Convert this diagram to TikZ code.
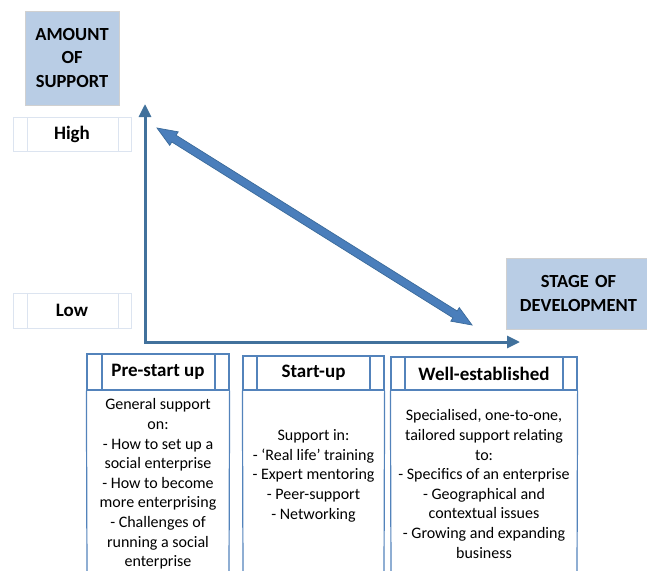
\documentclass[tikz,border=0pt]{standalone}
\usepackage{fontspec}
\setmainfont{Carlito}
\usetikzlibrary{arrows.meta,calc}
\definecolor{boxfill}{HTML}{B9CDE5}
\definecolor{boxline}{HTML}{D0D0D0}
\definecolor{tickline}{HTML}{DCE4F0}
\definecolor{axiscol}{HTML}{41719C}
\definecolor{arrfill}{HTML}{4A7EBB}
\definecolor{arrline}{HTML}{3A6A9A}
\definecolor{stageline}{HTML}{5383BB}
\tikzset{
  bluebox/.style={draw=boxline, fill=boxfill, line width=0.8pt, inner sep=0pt, align=center, font=\fontsize{18.5}{23.5}\selectfont\bfseries},
  tickbox/.style={draw=tickline, line width=0.8pt, inner sep=0pt, font=\fontsize{19}{23}\selectfont\bfseries},
  tickline/.style={draw=tickline, line width=0.8pt},
  axis/.style={draw=axiscol, line width=3pt, line join=miter, {Triangle[width=12pt,length=13pt]}-{Triangle[width=12pt,length=13pt]}},
  dblarrow/.style={fill=arrfill, draw=arrline, line width=0.7pt, line join=miter},
  stagehead/.style={draw=stageline, line width=1.2pt, inner sep=0pt, font=\fontsize{19}{23}\selectfont\bfseries},
  stageline/.style={draw=stageline, line width=1.2pt},
  bodytext/.style={inner sep=0pt, align=center, anchor=north, font=\fontsize{16}{19.6}\selectfont}
}
\begin{document}
\begin{tikzpicture}[x=1pt,y=-1pt]
\useasboundingbox (0,0) rectangle (647,570);
% axis title boxes
\node[bluebox, minimum width=94pt, minimum height=94pt] (amount) at (72,58) {AMOUNT\\OF\\SUPPORT};
\node[bluebox, minimum width=145pt, minimum height=71pt, text width=140pt] (stage) at (578.5,293.5) {STAGE OF\\DEVELOPMENT};
% tick boxes
\node[tickbox, minimum width=118pt, minimum height=34pt] (high) at (72,134) {High};
\draw[tickline] (27,117) -- (27,151) (118,117) -- (118,151);
\node[tickbox, minimum width=118pt, minimum height=35pt] (low) at (72,310.5) {Low};
\draw[tickline] (27,293) -- (27,328) (118,293) -- (118,328);
% axes
\coordinate (ytop) at (145,104);
\coordinate (xend) at (520,342);
\draw[axis] (ytop) |- (xend);
% double arrow
\coordinate (dA) at (157,128);
\coordinate (dB) at (472,325);
\coordinate (hA) at ($(dA)!20pt!(dB)$);
\coordinate (hB) at ($(dB)!20pt!(dA)$);
\filldraw[dblarrow] (dA) -- ($(hA)!8pt!90:(dB)$) -- ($(hA)!4pt!90:(dB)$) -- ($(hB)!4pt!-90:(dA)$) -- ($(hB)!8pt!-90:(dA)$) -- (dB) -- ($(hB)!8pt!90:(dA)$) -- ($(hB)!4pt!90:(dA)$) -- ($(hA)!4pt!-90:(dB)$) -- ($(hA)!8pt!-90:(dB)$) -- cycle;
% stage columns
\node[stagehead, minimum width=142pt, minimum height=36pt] (pre) at (158,372) {Pre-start up};
\draw[stageline] (102,354) -- (102,390) (215,354) -- (215,390);
\draw[stageline] (pre.south west) -- (87,575) (pre.south east) -- (229,575);
\node[bodytext] (prebody) at (158,398.5) {General support\\on:\\- How to set up a\\social enterprise\\- How to become\\more enterprising\\- Challenges of\\running a social\\enterprise};

\node[stagehead, minimum width=141pt, minimum height=34pt] (start) at (313.5,373) {Start-up};
\draw[stageline] (257,356) -- (257,390) (370,356) -- (370,390);
\draw[stageline] (start.south west) -- (243,575) (start.south east) -- (384,575);
\node[bodytext] (startbody) at (313.5,429.5) {Support in:\\- ‘Real life’ training\\- Expert mentoring\\- Peer-support\\- Networking};

\node[stagehead, minimum width=186pt, minimum height=33pt] (well) at (484,373.5) {Well-established};
\draw[stageline] (405,357) -- (405,390) (563,357) -- (563,390);
\draw[stageline] (well.south west) -- (391,575) (well.south east) -- (577,575);
\node[bodytext] (wellbody) at (484,409.5) {Specialised, one-to-one,\\tailored support relating\\to:\\- Specifics of an enterprise\\- Geographical and\\contextual issues\\- Growing and expanding\\business};
\end{tikzpicture}
\end{document}
